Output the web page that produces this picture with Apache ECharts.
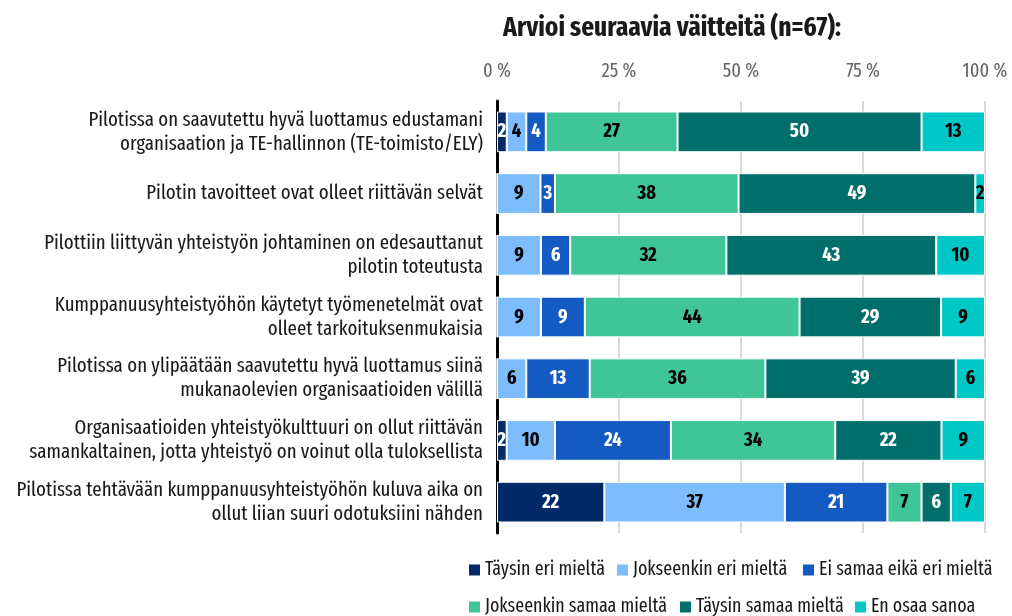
<!DOCTYPE html>
<html><head><meta charset="utf-8">
<script src="https://cdn.jsdelivr.net/npm/echarts@6/dist/echarts.min.js"></script>
<style>html,body{margin:0;padding:0;background:#fff}#c{width:1012px;height:616px}</style>
</head><body><div id="c"></div>
<script>
const categories = [
  "Pilotissa on saavutettu hyvä luottamus edustamani\norganisaation ja TE-hallinnon (TE-toimisto/ELY)",
  "Pilotin tavoitteet ovat olleet riittävän selvät",
  "Pilottiin liittyvän yhteistyön johtaminen on edesauttanut\npilotin toteutusta",
  "Kumppanuusyhteistyöhön käytetyt työmenetelmät ovat\nolleet tarkoituksenmukaisia",
  "Pilotissa on ylipäätään saavutettu hyvä luottamus siinä\nmukanaolevien organisaatioiden välillä",
  "Organisaatioiden yhteistyökulttuuri on ollut riittävän\nsamankaltainen, jotta yhteistyö on voinut olla tuloksellista",
  "Pilotissa tehtävään kumppanuusyhteistyöhön kuluva aika on\nollut liian suuri odotuksiini nähden"
];
const seriesNames = ["Täysin eri mieltä","Jokseenkin eri mieltä","Ei samaa eikä eri mieltä","Jokseenkin samaa mieltä","Täysin samaa mieltä","En osaa sanoa"];
const taysinEri      = [2, 0, 0, 0, 0, 2, 22];
const jokseenkinEri  = [4, 9, 9, 9, 6, 10, 37];
const eiSamaaEikaEri = [4, 3, 6, 9, 13, 24, 21];
const jokseenkinSama = [27, 38, 32, 44, 36, 34, 7];
const taysinSama     = [50, 49, 43, 29, 39, 22, 6];
const enOsaa         = [13, 2, 10, 9, 6, 9, 7];
const tickLabels = ["0 %","25 %","50 %","75 %","100 %"];
const title = "Arvioi seuraavia väitteitä (n=67):";

const colors = ["#022a68","#7dbdfd","#135bc2","#40c598","#006f6c","#00c8c6"];
const labelColors = ["#fff","#000","#fff","#000","#fff","#000"];
const allSeries = [taysinEri, jokseenkinEri, eiSamaaEikaEri, jokseenkinSama, taysinSama, enOsaa];
const rowSums = categories.map((_, i) => allSeries.reduce((s, a) => s + a[i], 0));
const FONT = "'Fira Sans Extra Condensed','Fira Sans Condensed',sans-serif";

const series = allSeries.map((arr, k) => ({
  name: seriesNames[k],
  type: 'bar',
  stack: 'total',
  barWidth: '66%',
  itemStyle: { color: colors[k], borderColor: '#fff', borderWidth: 1 },
  label: {
    show: true,
    position: 'inside',
    color: labelColors[k],
    fontFamily: FONT,
    fontWeight: 'bold',
    fontSize: 20,
    formatter: p => p.data.raw > 0 ? String(p.data.raw) : ''
  },
  data: arr.map((v, i) => ({ value: v / rowSums[i] * 100, raw: v }))
}));

// legend item placement (left edge of the swatch, row top)
const legendPos = [[467, 555], [615, 555], [801, 555], [467, 592], [678, 592], [853, 592]];
const legendText = { fontFamily: FONT, fontSize: 19.5, color: '#1a1a1a', padding: [0, 0, 0, -1] };
const legends = seriesNames.map((n, k) => ({
  data: [n], left: legendPos[k][0] - 5, top: legendPos[k][1],
  itemWidth: 13, itemHeight: 13, icon: 'rect', textStyle: legendText
}));

const chart = echarts.init(document.getElementById('c'), null, { renderer: 'canvas' });
chart.setOption({
  animation: false,
  backgroundColor: '#fff',
  textStyle: { fontFamily: FONT },
  title: {
    text: title,
    left: 667, top: 9, textAlign: 'center',
    textStyle: { fontFamily: FONT, fontWeight: 'bold', fontSize: 27.5, color: '#1a1a1a' }
  },
  legend: legends,
  grid: { left: 497, right: 27, top: 101, bottom: 83, containLabel: false },
  xAxis: {
    type: 'value', position: 'top', min: 0, max: 100, interval: 25,
    axisLine: { show: false }, axisTick: { show: false },
    axisLabel: {
      margin: 20, color: '#666', fontFamily: FONT, fontSize: 20,
      formatter: v => tickLabels[Math.round(v / 25)]
    },
    splitLine: { show: true, lineStyle: { color: '#d9d9d9', width: 2 } }
  },
  yAxis: {
    type: 'category', inverse: true, data: categories,
    axisLine: { show: true, lineStyle: { color: '#000', width: 3 } },
    axisTick: { show: false },
    axisLabel: { margin: 14, color: '#1a1a1a', fontFamily: FONT, fontSize: 20.5, lineHeight: 24, align: 'right' }
  },
  series: series
});
</script></body></html>
